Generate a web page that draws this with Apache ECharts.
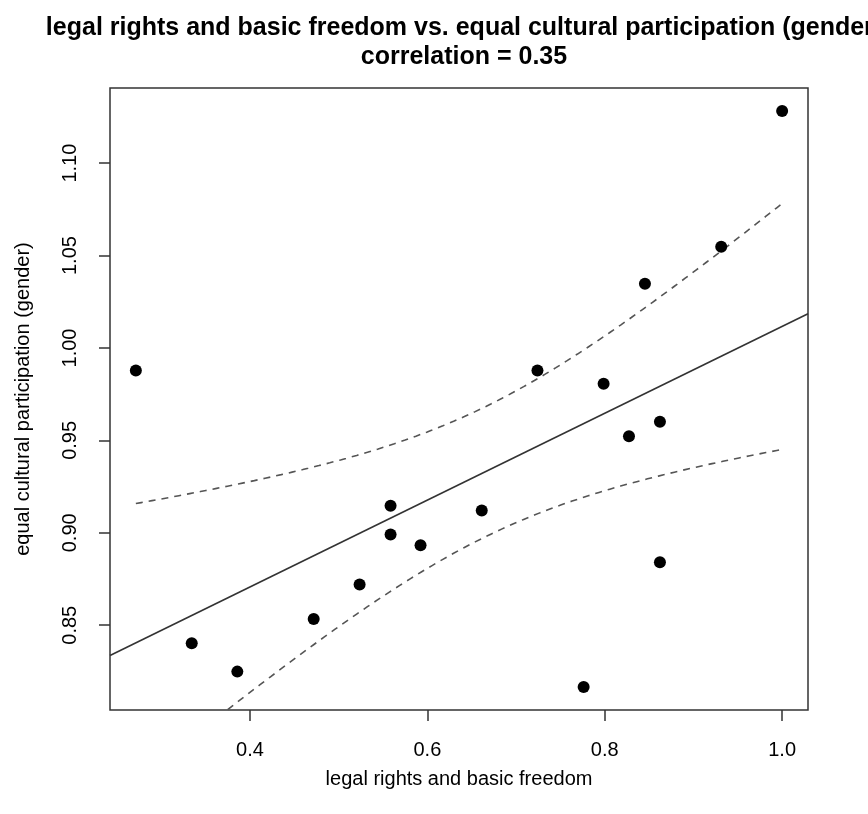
<!DOCTYPE html>
<html>
<head>
<meta charset="utf-8">
<script src="https://cdn.jsdelivr.net/npm/echarts@6/dist/echarts.min.js"></script>
<style>
  html, body { margin: 0; padding: 0; background: #fff; }
  #chart { width: 868px; height: 814px; }
</style>
</head>
<body>
<div id="chart"></div>
<script>
// Observations: legal rights and basic freedom (x) vs. equal cultural participation, gender (y)
const xValues = [0.2713, 0.3343, 0.3857, 0.4718, 0.5236, 0.5585, 0.5585, 0.5923, 0.6613,
                 0.7241, 0.7762, 0.7987, 0.8273, 0.8622, 0.8622, 0.8453, 0.9313, 1.0000];
const yValues = [0.9878, 0.8402, 0.8249, 0.8534, 0.8720, 0.9146, 0.8991, 0.8933, 0.9121,
                 0.9878, 0.8166, 0.9806, 0.9522, 0.9601, 0.8841, 1.0347, 1.0548, 1.1282];

// Axis ticks and their labels
const xTicks = [0.4, 0.6, 0.8, 1.0];
const xTickLabels = ['0.4', '0.6', '0.8', '1.0'];
const yTicks = [0.85, 0.90, 0.95, 1.00, 1.05, 1.10];
const yTickLabels = ['0.85', '0.90', '0.95', '1.00', '1.05', '1.10'];

const titleText = 'legal rights and basic freedom vs. equal cultural participation (gender)\ncorrelation = 0.35';
const xName = 'legal rights and basic freedom';
const yName = 'equal cultural participation (gender)';

// Student t 0.975 quantile for n - 2 = 16 degrees of freedom
const T975 = 2.1199;

const FONT = '"Liberation Sans", Arial, Helvetica, sans-serif';

// Axis range: data range padded by 4% on each side
function paddedRange(v) {
  const lo = Math.min(...v), hi = Math.max(...v);
  const pad = 0.04 * (hi - lo);
  return [lo - pad, hi + pad];
}
const [xMin, xMax] = paddedRange(xValues);
const [yMin, yMax] = paddedRange(yValues);

// Least squares fit with 95% confidence band for the mean
const n = xValues.length;
const xBar = xValues.reduce((a, b) => a + b, 0) / n;
const yBar = yValues.reduce((a, b) => a + b, 0) / n;
let sxx = 0, sxy = 0;
for (let i = 0; i < n; i++) {
  sxx += (xValues[i] - xBar) ** 2;
  sxy += (xValues[i] - xBar) * (yValues[i] - yBar);
}
const slope = sxy / sxx;
const intercept = yBar - slope * xBar;
let sse = 0;
for (let i = 0; i < n; i++) {
  sse += (yValues[i] - intercept - slope * xValues[i]) ** 2;
}
const sigma = Math.sqrt(sse / (n - 2));
const fit = x => intercept + slope * x;
const halfWidth = x => T975 * sigma * Math.sqrt(1 / n + (x - xBar) ** 2 / sxx);

const bandLo = Math.min(...xValues), bandHi = Math.max(...xValues);
const upperBand = [], lowerBand = [];
const STEPS = 120;
for (let k = 0; k <= STEPS; k++) {
  const x = bandLo + (bandHi - bandLo) * k / STEPS;
  upperBand.push([x, fit(x) + halfWidth(x)]);
  lowerBand.push([x, fit(x) - halfWidth(x)]);
}
const fitLine = [[xMin, fit(xMin)], [xMax, fit(xMax)]];

const points = xValues.map((x, i) => [x, yValues[i]]);

const chart = echarts.init(document.getElementById('chart'), null, { renderer: 'canvas' });
chart.setOption({
  animation: false,
  backgroundColor: '#fff',
  title: {
    text: titleText,
    left: 459,
    top: 9,
    textAlign: 'center',
    textStyle: {
      fontFamily: FONT,
      fontWeight: 'bold',
      fontSize: 25,
      lineHeight: 29,
      color: '#000'
    }
  },
  grid: {
    left: 110, right: 60, top: 88, bottom: 104,
    show: true,
    borderColor: '#333',
    borderWidth: 1.5,
    backgroundColor: 'transparent',
    containLabel: false,
    outerBoundsMode: 'none'
  },
  xAxis: {
    type: 'value',
    min: xMin, max: xMax,
    axisLine: { show: false },
    splitLine: { show: false },
    axisTick: {
      show: true, inside: false, length: 11,
      customValues: xTicks,
      lineStyle: { color: '#333', width: 1.5 }
    },
    axisLabel: {
      customValues: xTicks,
      formatter: v => xTickLabels[xTicks.findIndex(t => Math.abs(t - v) < 1e-9)],
      margin: 30,
      fontFamily: FONT, fontSize: 20, color: '#000'
    },
    name: xName,
    nameLocation: 'middle',
    nameGap: 59,
    nameTextStyle: { fontFamily: FONT, fontSize: 20, color: '#000' }
  },
  yAxis: {
    type: 'value',
    min: yMin, max: yMax,
    axisLine: { show: false },
    splitLine: { show: false },
    axisTick: {
      show: true, inside: false, length: 11,
      customValues: yTicks,
      lineStyle: { color: '#333', width: 1.5 }
    },
    axisLabel: {
      customValues: yTicks,
      formatter: v => yTickLabels[yTicks.findIndex(t => Math.abs(t - v) < 1e-9)],
      rotate: 90,
      margin: 30,
      fontFamily: FONT, fontSize: 20, color: '#000'
    },
    name: yName,
    nameLocation: 'middle',
    nameRotate: 90,
    nameGap: 77,
    nameTextStyle: { fontFamily: FONT, fontSize: 20, color: '#000' }
  },
  series: [
    {
      name: 'fit',
      type: 'line',
      data: fitLine,
      showSymbol: false,
      clip: true,
      lineStyle: { color: '#333', width: 1.6, type: 'solid' },
      z: 2
    },
    {
      name: 'upper',
      type: 'line',
      data: upperBand,
      showSymbol: false,
      clip: true,
      lineStyle: { color: '#555', width: 1.6, type: [7, 6] },
      z: 2
    },
    {
      name: 'lower',
      type: 'line',
      data: lowerBand,
      showSymbol: false,
      clip: true,
      lineStyle: { color: '#555', width: 1.6, type: [7, 6] },
      z: 2
    },
    {
      name: 'points',
      type: 'scatter',
      data: points,
      symbol: 'circle',
      symbolSize: 12,
      itemStyle: { color: '#000', opacity: 1 },
      z: 5
    }
  ]
});
</script>
</body>
</html>
